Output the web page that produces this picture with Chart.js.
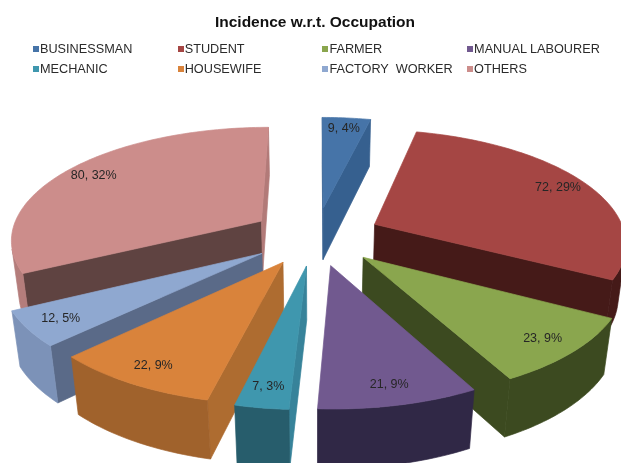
<!DOCTYPE html>
<html>
<head>
<meta charset="utf-8">
<script src="https://cdn.jsdelivr.net/npm/chart.js@4/dist/chart.umd.js"></script>
<style>
  html, body { margin: 0; padding: 0; background: #fff; overflow: hidden; }
  #wrap { position: relative; width: 621px; height: 463px; filter: blur(0.4px); }
  #legend { position: absolute; left: 33px; top: 39px; display: grid; grid-template-columns: repeat(4, 144.7px); grid-auto-rows: 20px; font: 12.7px "Liberation Sans", Arial, sans-serif; color: #2b2b2b; }
  .item { display: flex; align-items: center; white-space: pre; height: 20px; }
  .dot { width: 6px; height: 6px; margin-right: 1px; }
</style>
</head>
<body>
<div id="wrap">
  <canvas id="pie" width="621" height="463"></canvas>
  <div id="legend"></div>
</div>
<script>
const CATEGORIES = ['BUSINESSMAN', 'STUDENT', 'FARMER', 'MANUAL LABOURER', 'MECHANIC', 'HOUSEWIFE', 'FACTORY  WORKER', 'OTHERS'];
const COUNTS = [9, 72, 23, 21, 7, 22, 12, 80];
const PERCENTS = [4, 29, 9, 9, 3, 9, 5, 32];

const TOP_COLORS = ['#4674A8', '#A54644', '#8AA64E', '#71598F', '#3F97AE', '#D9833B', '#8FA8D0', '#CC8D8B'];
const RIM_COLORS = ['#3A6290', '#451A18', '#3C4A20', '#302846', '#275D6C', '#A0622C', '#7C92B8', '#B47D7B'];
const START_COLORS = ['#36608F', '#451A18', '#3C4A20', '#302846', '#37839A', '#AE6C30', '#5A6A88', '#5F4341'];
const END_COLORS = ['#36608F', '#451A18', '#3C4A20', '#302846', '#37839A', '#AE6C30', '#5A6A88', '#B27A78'];

// camera for the tilted pie, fitted to the reference
const CX = 316, CY = 236;
const SCALE_X = 251, SCALE_Y = 112, DEPTH = 54;
const PERSP = 0.15, PERSP_Z = 0.025;
const EXPLODE = 0.26, LABEL_AT = 0.87;

function project(x, y, z) {
  const w = 1 - PERSP * y + PERSP_Z * z;
  return [CX + SCALE_X * x / w, CY + (SCALE_Y * y + DEPTH * z) / w];
}

function area(pts) {
  let s = 0;
  pts.forEach((p, i) => {
    const q = pts[(i + 1) % pts.length];
    s += p[0] * q[1] - q[0] * p[1];
  });
  return s / 2;
}

function fillPoly(ctx, pts, color) {
  ctx.beginPath();
  pts.forEach((p, i) => i ? ctx.lineTo(p[0], p[1]) : ctx.moveTo(p[0], p[1]));
  ctx.closePath();
  ctx.fillStyle = color;
  ctx.strokeStyle = color;
  ctx.lineWidth = 0.7;
  ctx.lineJoin = 'round';
  ctx.fill();
  ctx.stroke();
}

const tiltedPie = {
  id: 'tiltedPie',
  beforeDatasetsDraw(chart) {
    const ctx = chart.ctx;
    const arcs = chart.getDatasetMeta(0).data.map((arc, i) => {
      const mid = (arc.startAngle + arc.endAngle) / 2;
      return { i, start: arc.startAngle, end: arc.endAngle, mid,
        ox: EXPLODE * Math.cos(mid), oy: EXPLODE * Math.sin(mid) };
    });
    // back slices first
    const order = [...arcs].sort((a, b) => a.oy - b.oy);

    order.forEach(s => {
      const rim = (a, z) => project(s.ox + Math.cos(a), s.oy + Math.sin(a), z);
      const apex = z => project(s.ox, s.oy, z);

      const startFace = [apex(0), rim(s.start, 0), rim(s.start, 1), apex(1)];
      if (area(startFace) < 0) fillPoly(ctx, startFace, START_COLORS[s.i]);
      const endFace = [apex(0), rim(s.end, 0), rim(s.end, 1), apex(1)];
      if (area(endFace) > 0) fillPoly(ctx, endFace, END_COLORS[s.i]);

      const steps = Math.ceil((s.end - s.start) / 0.02);
      const angles = [];
      for (let k = 0; k <= steps; k++) angles.push(s.start + (s.end - s.start) * k / steps);

      // the rim wall, only where it faces us, as one piece so no seams show
      const front = angles.filter((a, k) => {
        const b = angles[Math.min(k + 1, steps)], c = angles[Math.max(k - 1, 0)];
        return area([rim(c, 0), rim(b, 0), rim(b, 1), rim(c, 1)]) < 0;
      });
      if (front.length > 1) {
        fillPoly(ctx, [...front.map(a => rim(a, 0)), ...[...front].reverse().map(a => rim(a, 1))], RIM_COLORS[s.i]);
      }
      fillPoly(ctx, [apex(0), ...angles.map(a => rim(a, 0))], TOP_COLORS[s.i]);
    });

    ctx.font = '12.5px "Liberation Sans", Arial, sans-serif';
    ctx.fillStyle = '#262626';
    ctx.textAlign = 'center';
    ctx.textBaseline = 'middle';
    arcs.forEach(s => {
      const p = project(s.ox + LABEL_AT * Math.cos(s.mid), s.oy + LABEL_AT * Math.sin(s.mid), 0);
      ctx.fillText(`${COUNTS[s.i]}, ${PERCENTS[s.i]}%`, p[0], p[1]);
    });
    return false;
  }
};

new Chart(document.getElementById('pie'), {
  type: 'pie',
  data: {
    labels: CATEGORIES,
    datasets: [{ data: COUNTS, backgroundColor: TOP_COLORS, borderWidth: 0 }]
  },
  options: {
    responsive: false,
    animation: false,
    layout: { padding: { left: 9, top: 3 } },
    plugins: {
      legend: { display: false },
      tooltip: { enabled: false },
      title: {
        display: true,
        text: 'Incidence w.r.t. Occupation',
        color: '#111',
        font: { family: '"Liberation Sans", Arial, sans-serif', size: 15.5, weight: 'bold' }
      }
    }
  },
  plugins: [tiltedPie]
});

document.getElementById('legend').innerHTML = CATEGORIES.map((name, i) =>
  `<div class="item"><span class="dot" style="background:${TOP_COLORS[i]}"></span>${name}</div>`
).join('');
</script>
</body>
</html>
